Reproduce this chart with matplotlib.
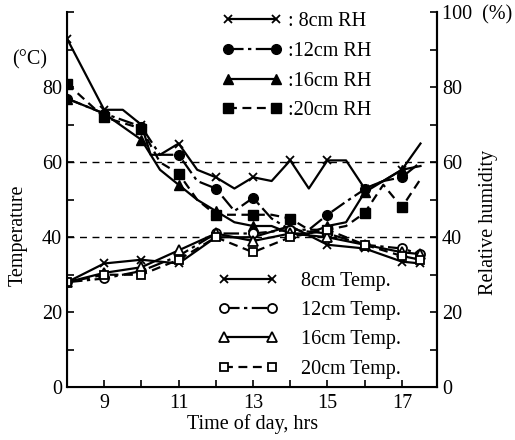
import matplotlib
matplotlib.use("Agg")
import matplotlib.pyplot as plt
from matplotlib.ticker import MultipleLocator

plt.rcParams['font.family'] = ['Liberation Serif', 'DejaVu Serif']
plt.rcParams['font.size'] = 14.5

# ---- data ----
rh_t = [8, 9, 9.5, 10, 10.25, 10.5, 11, 11.5, 12, 12.5, 13, 13.5, 14, 14.5, 15, 15.5, 16, 16.5, 17, 17.5]
rh8 = [93, 74, 74, 70, 62, 62, 65, 58, 56, 53, 56, 55, 60.5, 53, 60.5, 60.5, 53, 55, 58, 65]

rh_t2 = [8, 9, 10, 10.5, 11, 11.5, 12, 12.5, 13, 13.5, 14, 14.5, 15, 15.5, 16, 16.5, 17, 17.5]
rh12 = [77, 73, 69.5, 62, 62, 55, 53, 47, 50.5, 45, 42, 42, 46, 49.5, 52.8, 55, 56, 60]
rh16 = [77, 73, 66, 58, 54, 50, 47, 44, 43, 43, 41, 41, 43, 44, 52, 55, 58, 59]
rh20 = [81, 72, 69, 60, 57, 50, 46, 46, 46, 46, 45, 42, 42, 43, 46.5, 54, 48, 55.5]

tp_t = [8, 9, 10, 11, 12, 13, 14, 15, 16, 17, 17.5]
tp8 = [28, 33, 34, 33, 40, 40, 43, 38, 37, 33.5, 33]
tp12 = [28, 29, 31, 35, 41, 41, 42, 41, 38, 37, 35.5]
tp16 = [28, 30.5, 32, 36.5, 41, 39, 41, 40, 38, 36, 35.5]
tp20 = [28, 30, 30, 34, 40, 36, 40, 42, 38, 35, 34]

rh_labels = [': 8cm RH', ':12cm RH', ':16cm RH', ':20cm RH']
tp_labels = ['8cm Temp.', '12cm Temp.', '16cm Temp.', '20cm Temp.']
x_ticks = [9, 11, 13, 15, 17]
left_ticks = [0, 20, 40, 60, 80]
right_ticks = [0, 20, 40, 60, 80, 100]
right_labels = ['0', '20', '40', '60', '80', '100  (%)']

# ---- figure ----
fig = plt.figure(figsize=(5.15, 4.4), dpi=100)
ax = fig.add_axes([0.130, 0.120, 0.719, 0.852])
ax.set_xlim(8, 17.95)
ax.set_ylim(0, 100)

def hourly(ts):
    return [i for i, t in enumerate(ts) if float(t).is_integer()]

k = 'black'
dashdot = (0, (7, 2, 1.5, 2))
dashed = (0, (4, 2.5))

h1, = ax.plot(rh_t, rh8, color=k, lw=1.6, ls='-', marker='x', ms=6, mew=1.3,
              markevery=hourly(rh_t), label=rh_labels[0])
h2, = ax.plot(rh_t2, rh12, color=k, lw=1.6, ls=dashdot, marker='o', ms=7,
              markevery=hourly(rh_t2), label=rh_labels[1])
h3, = ax.plot(rh_t2, rh16, color=k, lw=1.6, ls='-', marker='^', ms=7,
              markevery=hourly(rh_t2), label=rh_labels[2])
h4, = ax.plot(rh_t2, rh20, color=k, lw=1.6, ls=dashed, marker='s', ms=6.5,
              markevery=hourly(rh_t2), label=rh_labels[3])

g1, = ax.plot(tp_t, tp8, color=k, lw=1.6, ls='-', marker='x', ms=6, mew=1.3, label=tp_labels[0])
g2, = ax.plot(tp_t, tp12, color=k, lw=1.6, ls=dashdot, marker='o', ms=6.5, mfc='white', mew=1.3, label=tp_labels[1])
g3, = ax.plot(tp_t, tp16, color=k, lw=1.6, ls='-', marker='^', ms=7, mfc='white', mew=1.3, label=tp_labels[2])
g4, = ax.plot(tp_t, tp20, color=k, lw=1.6, ls=dashed, marker='s', ms=6, mfc='white', mew=1.3, label=tp_labels[3])

for yv in (40, 60):
    ax.axhline(yv, color=k, lw=1.0, ls=(0, (5, 4)), zorder=0)

ax.spines['top'].set_visible(False)
for s in ('left', 'right', 'bottom'):
    ax.spines[s].set_linewidth(1.5)

ax.set_xticks(x_ticks)
ax.xaxis.set_minor_locator(MultipleLocator(1))
ax.set_yticks(left_ticks)
ax.yaxis.set_minor_locator(MultipleLocator(10))
ax.tick_params(which='both', direction='in', length=5, width=1.2)
ax.tick_params(axis='y', which='both', right=False)
ax.tick_params(axis='x', pad=5)

ax2 = ax.twinx()
ax2.set_ylim(0, 100)
ax2.set_yticks(right_ticks)
ax2.set_yticklabels(right_labels)
ax2.yaxis.set_minor_locator(MultipleLocator(10))
ax2.tick_params(which='both', direction='in', length=5, width=1.2)
ax2.spines['top'].set_visible(False)
ax2.spines['right'].set_linewidth(1.5)

ax.set_xlabel('Time of day, hrs', labelpad=1)
fig.text(18 / 515, 1 - 235 / 440, 'Temperature', rotation=90, ha='center', va='center')
fig.text(488 / 515, 1 - 222 / 440, 'Relative humidity', rotation=90, ha='center', va='center')
fig.text(30 / 515, 1 - 60 / 440, '(°C)', ha='center', va='center')

leg1 = ax.legend(handles=[h1, h2, h3, h4], loc='upper left',
                 bbox_to_anchor=(222 / 515, 1 - 12 / 440), bbox_transform=fig.transFigure,
                 frameon=False, numpoints=2, handlelength=3.0, handletextpad=0.3,
                 labelspacing=0.53, borderaxespad=0, borderpad=0)
ax.add_artist(leg1)
ax.legend(handles=[g1, g2, g3, g4], loc='upper left',
          bbox_to_anchor=(218 / 515, 1 - 272 / 440), bbox_transform=fig.transFigure,
          frameon=False, numpoints=2, handlelength=3.0, handletextpad=1.1,
          labelspacing=0.5, borderaxespad=0, borderpad=0)

fig.savefig('out.png', dpi=100)
